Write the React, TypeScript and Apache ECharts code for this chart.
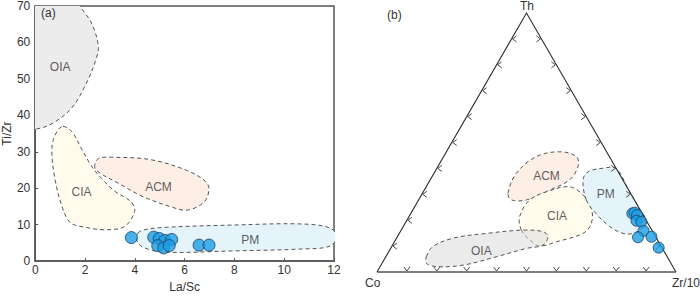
import React, { useEffect, useRef } from "react";
import * as echarts from "echarts";

// ---------- Panel (a): La/Sc vs Ti/Zr ----------
const laSc = [3.86, 4.76, 4.98, 5.21, 5.48, 4.92, 5.16, 5.38, 6.58, 6.98];
const tiZr = [6.46, 6.56, 6.2, 5.68, 5.94, 4.24, 3.62, 4.24, 4.39, 4.39];

const oiaA = [[-1, 35.8], [0, 36.2], [0.67, 37.7], [1.46, 42], [2.06, 48.9], [2.46, 55.8], [2.53, 59.3], [2.26, 65.3], [1.8, 70], [1.5, 74], [-1, 74]];
const ciaA = [[1.06, 36.9], [0.73, 33.4], [0.67, 29.1], [0.8, 22.2], [1.06, 15.3], [1.4, 10.6], [2.0, 9.3], [2.79, 8.6], [3.59, 9.5], [3.99, 13.6], [3.86, 16.2], [3.19, 19.2], [2.66, 22.7], [2.26, 26.1], [1.86, 30.8], [1.46, 35.6]];
const acmA = [[2.39, 25.7], [2.53, 28.1], [3.06, 28.5], [4.66, 27.8], [6.12, 24.8], [6.85, 21.8], [6.98, 19.6], [6.78, 16.2], [6.12, 14.0], [5.45, 14.9], [4.26, 17.9], [3.33, 21.4], [2.66, 23.9]];
const pmA = [[4.12, 7.6], [4.39, 8.6], [5.32, 9.3], [7.98, 9.9], [10.64, 10.2], [11.84, 9.1], [12.1, 6.7], [11.84, 4.1], [10.64, 3.3], [7.98, 2.8], [5.32, 2.4], [4.52, 3.3], [4.12, 5.0]];
const labelsA = [["OIA", 1.0, 53.2], ["CIA", 1.86, 19], ["ACM", 4.95, 20.3], ["PM", 8.64, 5.7]];

// ---------- Panel (b): Th - Co - Zr/10 ternary (percent) ----------
const thB = [22.6, 22.9, 22.0, 19.8, 19.4, 15.9, 13.4, 13.6, 9.4];
const zrB = [74.1, 74.7, 76.0, 76.9, 78.7, 81.2, 80.6, 85.0, 89.5];
const coB = [3.3, 2.4, 2.0, 3.3, 1.9, 2.9, 6.0, 1.4, 1.1];
const ternTicks = [10, 20, 30, 40, 50, 60, 70, 80, 90];

// field outlines in triangle-plane units (base 0..100, height 86.6)
const acmB = [[43.8, 26.3], [46.6, 33.0], [53.3, 38.6], [61.1, 40.2], [66.7, 38.6], [67.2, 35.2], [64.4, 30.8], [57.8, 27.4], [50.0, 24.1], [45.0, 24.1]];
const ciaB = [[48.3, 14.0], [47.7, 18.5], [51.1, 24.1], [57.8, 27.2], [64.4, 28.5], [68.9, 25.8], [71.7, 21.3], [71.7, 16.3], [68.9, 12.9], [60.0, 10.1], [54.4, 8.7], [51.1, 10.7]];
const pmB = [[70.0, 24.1], [68.9, 30.8], [70.6, 33.5], [75.6, 34.7], [80.0, 34.6], [84.0, 27.7], [88.0, 20.8], [90.0, 17.3], [88.5, 14.5], [85.6, 12.9], [82.3, 12.9], [77.8, 15.2], [73.2, 19.6]];
const oiaB = [[16.5, 5.1], [18.7, 8.5], [25.4, 11.3], [36.6, 12.9], [48.8, 14.0], [55.5, 13.5], [57.2, 11.8], [55.5, 9.0], [50.0, 7.9], [39.9, 5.1], [28.8, 2.3], [19.9, 1.8], [16.5, 2.9]];
const labelsB = [["ACM", 56.7, 32.2], ["CIA", 60.2, 18.7], ["PM", 76.5, 26.1], ["OIA", 34.9, 7.1]];

const H = 86.6;
const FONT = "Liberation Sans, Arial, sans-serif";

function ternToXY(th: number, zr: number) {
  return [zr + th / 2, (th * H) / 100];
}

export default function App() {
  const ref = useRef<HTMLDivElement>(null);
  useEffect(() => {
    document.body.style.margin = "0";
    const chart = echarts.init(ref.current!, null, { renderer: "svg" });

    const regionsA = [
      { pts: ciaA, fill: "#fffcee" },
      { pts: acmA, fill: "#fdeee6" },
      { pts: pmA, fill: "#e5f3fb" },
      { pts: oiaA, fill: "#ececec" },
    ];
    const regionsB = [
      { pts: acmB, fill: "#fdeee6" },
      { pts: ciaB, fill: "#fffcee" },
      { pts: pmB, fill: "#e5f3fb" },
      { pts: oiaB, fill: "rgba(215,215,215,0.5)" },
    ];

    const regionSeries = (regions: any[], idx: number) => ({
      type: "custom",
      xAxisIndex: idx,
      yAxisIndex: idx,
      clip: true,
      silent: true,
      data: regions.map((_, i) => [i, 0]),
      renderItem: (params: any, api: any) => {
        const r = regions[params.dataIndex];
        return {
          type: "polygon",
          shape: { points: r.pts.map((p: number[]) => api.coord(p)), smooth: 0.35 },
          style: { fill: r.fill, stroke: "#555", lineWidth: 1, lineDash: [4, 3] },
        };
      },
    });

    const labelSeries = (labels: any[], idx: number) => ({
      type: "scatter",
      xAxisIndex: idx,
      yAxisIndex: idx,
      symbolSize: 1,
      itemStyle: { color: "rgba(0,0,0,0)" },
      silent: true,
      data: labels.map((l) => [l[1], l[2], l[0]]),
      label: {
        show: true,
        position: "inside",
        formatter: (p: any) => p.data[2],
        color: "#333",
        fontSize: 12,
        fontFamily: FONT,
      },
    });

    const pointStyle = { color: "#1c9ee3", borderColor: "#1d3e62", borderWidth: 1 };
    const txt = { color: "#333", fontSize: 12, fontFamily: FONT };

    const option: any = {
      animation: false,
      backgroundColor: "#fff",
      grid: [
        { left: 33, top: 2, width: 301, height: 271, show: true, borderColor: "#555", borderWidth: 1.5, backgroundColor: "transparent" },
        { left: 377, top: 13, width: 299, height: 259 },
      ],
      xAxis: [
        {
          gridIndex: 0, type: "value", min: 0, max: 12, interval: 2,
          name: "La/Sc", nameLocation: "middle", nameGap: 13,
          nameTextStyle: txt,
          axisLine: { show: true, lineStyle: { color: "#555", width: 1.5 } },
          axisTick: { show: true, inside: true, length: 3, lineStyle: { color: "#555" } },
          axisLabel: { ...txt, margin: 3 },
          splitLine: { show: false },
        },
        { gridIndex: 1, type: "value", min: 0, max: 100, show: false },
      ],
      yAxis: [
        {
          gridIndex: 0, type: "value", min: 0, max: 70, interval: 10,
          name: "Ti/Zr", nameLocation: "middle", nameGap: 20, nameRotate: 90,
          nameTextStyle: txt,
          axisLine: { show: true, lineStyle: { color: "#555", width: 1.5 } },
          axisTick: { show: true, inside: true, length: 3, lineStyle: { color: "#555" } },
          axisLabel: { ...txt, margin: 5 },
          splitLine: { show: false },
        },
        { gridIndex: 1, type: "value", min: 0, max: H, show: false },
      ],
      series: [
        regionSeries(regionsA, 0),
        regionSeries(regionsB, 1),
        {
          type: "custom",
          xAxisIndex: 1,
          yAxisIndex: 1,
          silent: true,
          data: [[0, 0]],
          renderItem: (params: any, api: any) => {
            const A = api.coord([0, 0]);
            const B = api.coord([100, 0]);
            const C = api.coord([50, H]);
            const children: any[] = [
              { type: "polyline", shape: { points: [A, C, B] }, style: { fill: "none", stroke: "#2a2a2a", lineWidth: 1.1 } },
              { type: "line", shape: { x1: A[0], y1: A[1], x2: B[0], y2: B[1] }, style: { stroke: "#555", lineWidth: 1.6 } },
            ];
            const st = { stroke: "#333", fill: "none", lineWidth: 0.9 };
            ternTicks.forEach((t) => {
              const pb = api.coord([t, 0]);
              children.push({ type: "polyline", shape: { points: [[pb[0] - 3, pb[1] - 5], [pb[0], pb[1] - 1], [pb[0] + 3, pb[1] - 5]] }, style: st });
              const pl = api.coord([t / 2, (t * H) / 100]);
              children.push({ type: "polyline", shape: { points: [[pl[0] + 5, pl[1] - 3], [pl[0] + 1, pl[1]], [pl[0] + 5, pl[1] + 3]] }, style: st });
              const pr = api.coord([100 - t / 2, (t * H) / 100]);
              children.push({ type: "polyline", shape: { points: [[pr[0] - 5, pr[1] - 3], [pr[0] - 1, pr[1]], [pr[0] - 5, pr[1] + 3]] }, style: st });
            });
            return { type: "group", children };
          },
        },
        {
          type: "scatter",
          xAxisIndex: 0,
          yAxisIndex: 0,
          symbolSize: 12,
          itemStyle: pointStyle,
          data: laSc.map((x, i) => [x, tiZr[i]]),
          z: 5,
        },
        {
          type: "scatter",
          xAxisIndex: 1,
          yAxisIndex: 1,
          symbolSize: 11,
          itemStyle: pointStyle,
          data: thB.map((th, i) => ternToXY(th, zrB[i])),
          z: 5,
        },
        labelSeries(labelsA, 0),
        labelSeries(labelsB, 1),
      ],
      graphic: [
        { type: "text", z: 100, left: 41, top: 7, style: { text: "(a)", fill: "#333", font: `12px ${FONT}` } },
        { type: "text", z: 100, left: 387, top: 9, style: { text: "(b)", fill: "#333", font: `12px ${FONT}` } },
        { type: "text", z: 100, left: 520, top: 0, style: { text: "Th", fill: "#333", font: `12px ${FONT}` } },
        { type: "text", z: 100, left: 365, top: 277, style: { text: "Co", fill: "#333", font: `12px ${FONT}` } },
        { type: "text", z: 100, right: 0, top: 277, style: { text: "Zr/10", fill: "#333", font: `12px ${FONT}` } },
      ],
    };
    chart.setOption(option);
    return () => chart.dispose();
  }, []);
  return <div ref={ref} style={{ width: 700, height: 298 }} />;
}
